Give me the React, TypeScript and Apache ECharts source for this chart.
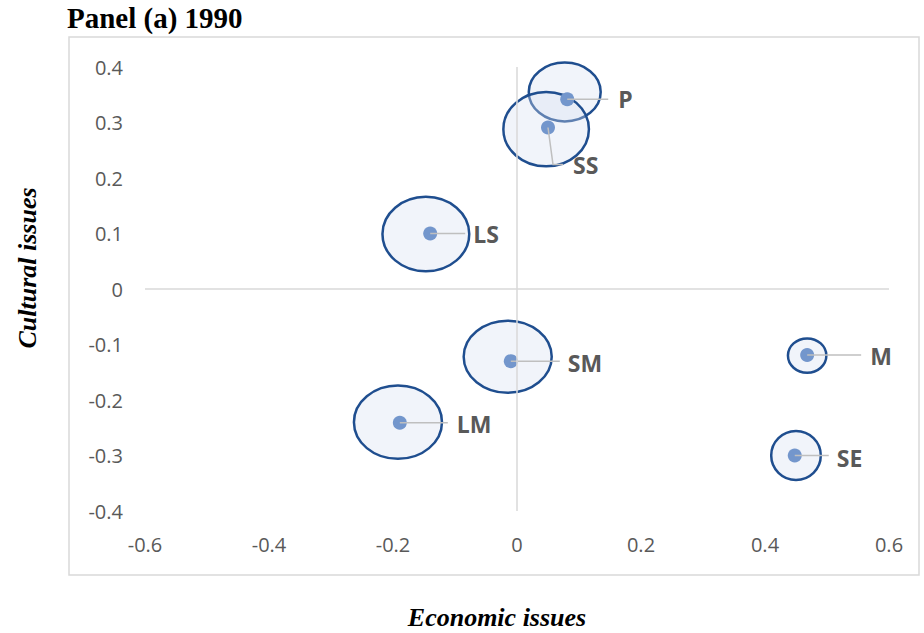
import React, { useEffect, useRef } from "react";
import * as echarts from "echarts";

// ---- data ----
const names = ["P", "SS", "LS", "SM", "LM", "M", "SE"];
const econ = [0.081, 0.05, -0.14, -0.01, -0.189, 0.468, 0.448];
const cult = [0.342, 0.291, 0.1, -0.13, -0.241, -0.119, -0.3];
const ellipseX = [0.077, 0.047, -0.147, -0.015, -0.192, 0.468, 0.45];
const ellipseY = [0.355, 0.288, 0.099, -0.122, -0.24, -0.12, -0.3];
const ellipseRx = [0.058, 0.069, 0.07, 0.071, 0.071, 0.031, 0.04];
const ellipseRy = [0.053, 0.067, 0.067, 0.065, 0.066, 0.031, 0.044];
const xTicks = { min: -0.6, max: 0.6, interval: 0.2 };
const yTicks = { min: -0.4, max: 0.4, interval: 0.1 };
const titleText = "Panel (a) 1990";
const xTitle = "Economic issues";
const yTitle = "Cultural issues";

// ---- label leader layout (pixel offsets from the point) ----
const leader: Record<string, { line: number[][]; text: number[] }> = {
  P: { line: [[0, 0], [41, 0]], text: [51, 0] },
  SS: { line: [[0, 0], [5, 37], [15, 37]], text: [25, 38] },
  LS: { line: [[0, 0], [35, 0]], text: [43, 0] },
  SM: { line: [[0, 0], [49, 0]], text: [57, 2] },
  LM: { line: [[0, 0], [48, 0]], text: [57, 1] },
  M: { line: [[0, 0], [54, 0]], text: [63, 1] },
  SE: { line: [[0, 0], [34, 0]], text: [42, 2] },
};

const fmt = (v: number) => {
  const r = Math.round(v * 10) / 10;
  return (Object.is(r, -0) ? 0 : r).toString();
};

export default function App() {
  const ref = useRef<HTMLDivElement>(null);
  useEffect(() => {
    if (!ref.current) return;
    const chart = echarts.init(ref.current, null, { renderer: "svg" });
    const ellipseData = names.map((n, i) => [ellipseX[i], ellipseY[i], ellipseRx[i], ellipseRy[i], i]);
    const pointData = names.map((n, i) => [econ[i], cult[i], i]);
    const labelFont = 'bold 23px "Open Sans"';
    chart.setOption({
      animation: false,
      title: {
        text: titleText,
        left: 67,
        top: 3,
        padding: 0,
        textStyle: { fontFamily: "Liberation Serif", fontWeight: "bold", fontSize: 29, color: "#000" },
      },
      grid: { left: 145, right: 35, top: 67, bottom: 122 },
      xAxis: {
        type: "value",
        min: xTicks.min,
        max: xTicks.max,
        interval: xTicks.interval,
        axisLine: { show: false },
        axisTick: { show: false },
        splitLine: { show: false },
        axisLabel: { margin: 23, color: "#595959", fontSize: 20, fontFamily: "Open Sans", formatter: fmt },
      },
      yAxis: {
        type: "value",
        min: yTicks.min,
        max: yTicks.max,
        interval: yTicks.interval,
        axisLine: { show: false },
        axisTick: { show: false },
        splitLine: { show: false },
        axisLabel: { margin: 22, color: "#595959", fontSize: 20, fontFamily: "Open Sans", formatter: fmt },
      },
      graphic: [
        {
          type: "rect",
          shape: { x: 69, y: 37, width: 850, height: 538 },
          style: { fill: "none", stroke: "#d9d9d9", lineWidth: 1.5 },
          silent: true,
        },
        {
          type: "text",
          x: 27,
          y: 268,
          rotation: Math.PI / 2,
          style: {
            text: yTitle,
            align: "center",
            verticalAlign: "middle",
            font: 'italic bold 26px "Liberation Serif"',
            fill: "#000",
          },
        },
        {
          type: "text",
          x: 497,
          y: 617,
          style: {
            text: xTitle,
            align: "center",
            verticalAlign: "middle",
            font: 'italic bold 26px "Liberation Serif"',
            fill: "#000",
          },
        },
      ],
      series: [
        {
          type: "scatter",
          data: [],
          markLine: {
            silent: true,
            symbol: "none",
            label: { show: false },
            lineStyle: { color: "#d9d9d9", width: 1.5, type: "solid" },
            data: [{ xAxis: 0 }, { yAxis: 0 }],
          },
          z: 1,
        },
        {
          type: "custom",
          data: ellipseData,
          z: 2,
          renderItem: (params: any, api: any) => {
            const c = api.coord([api.value(0), api.value(1)]);
            const s = api.size([api.value(2), api.value(3)]);
            return {
              type: "ellipse",
              shape: { cx: c[0], cy: c[1], rx: s[0], ry: s[1] },
              style: { fill: "rgba(214,224,240,0.35)", stroke: "#1f4e8f", lineWidth: 2.5 },
            };
          },
        },
        {
          type: "scatter",
          data: pointData,
          symbolSize: 14,
          itemStyle: { color: "#7396cc", opacity: 1 },
          z: 3,
        },
        {
          type: "custom",
          data: pointData,
          z: 4,
          renderItem: (params: any, api: any) => {
            const p = api.coord([api.value(0), api.value(1)]);
            const name = names[api.value(2)];
            const l = leader[name];
            return {
              type: "group",
              children: [
                {
                  type: "polyline",
                  shape: { points: l.line.map((q) => [p[0] + q[0], p[1] + q[1]]) },
                  style: { stroke: "#bfbfbf", lineWidth: 1.5, fill: "none" },
                },
                {
                  type: "text",
                  x: p[0] + l.text[0],
                  y: p[1] + l.text[1],
                  style: {
                    text: name,
                    align: "left",
                    verticalAlign: "middle",
                    font: labelFont,
                    fill: "#595959",
                  },
                },
              ],
            };
          },
        },
      ],
    });
    return () => chart.dispose();
  }, []);
  return (
    <div
      ref={ref}
      style={{ position: "fixed", left: 0, top: 0, width: 924, height: 633, background: "#fff" }}
    />
  );
}
